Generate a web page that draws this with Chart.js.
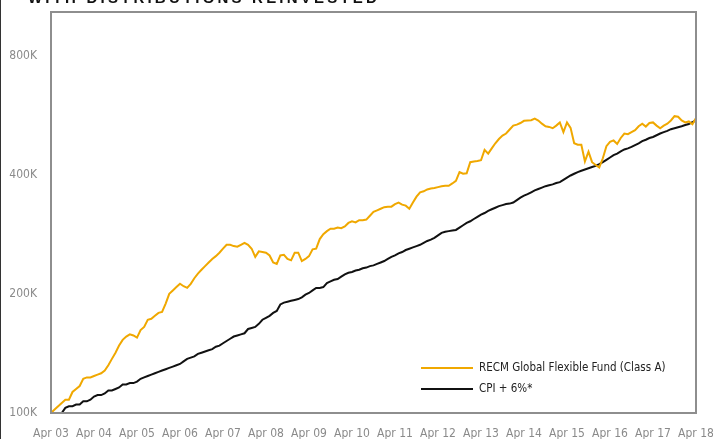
<!DOCTYPE html>
<html>
<head>
<meta charset="utf-8">
<script src="https://cdn.jsdelivr.net/npm/chart.js@4"></script>
<style>
  html, body { margin: 0; padding: 0; background: #fff; }
  #wrap { position: relative; width: 713px; height: 439px; overflow: hidden; }
  #edge { position: absolute; left: 0; top: 0; width: 1px; height: 439px; background: #333; }
  #title { position: absolute; left: 28px; top: -11px; font: bold 15px 'Liberation Sans', Arial, sans-serif;
           letter-spacing: 3.2px; color: #111; white-space: nowrap; }
</style>
</head>
<body>
<div id="wrap">
  <canvas id="myChart" width="713" height="439"></canvas>
  <div id="edge"></div>
  <div id="title">WITH DISTRIBUTIONS REINVESTED</div>
</div>
<script>
// monthly values in thousands, Apr 03 .. Apr 18
let fund = [
  100, 102, 104, 106, 108, 108, 113, 115, 117, 122, 123, 123,
  124, 125, 126, 128, 132, 137, 142, 148, 153, 156, 158, 157,
  155, 162, 165, 172, 173, 176, 179, 180, 189, 200, 204, 208,
  212, 209, 207, 212, 219, 225, 230, 235, 240, 245, 249, 254,
  260, 266, 266, 264, 263, 266, 269, 266, 260, 248, 256, 255,
  254, 250, 240, 238, 250, 251, 245, 243, 254, 254, 242, 245,
  249, 259, 260, 275, 283, 288, 292, 292, 294, 293, 296, 302,
  305, 303, 307, 307, 308, 315, 322, 325, 328, 331, 332, 332,
  337, 340, 336, 334, 328, 340, 352, 361, 363, 367, 369, 370,
  372, 374, 375, 375, 380, 386, 406, 402, 403, 430, 432, 433,
  435, 462, 452, 466, 480, 492, 502, 508, 520, 532, 535, 540,
  547, 548, 549, 554, 548, 538, 530, 528, 524, 532, 542, 512,
  542, 525, 480, 476, 476, 432, 457, 430, 423, 417, 440, 472,
  484, 488, 478, 495, 508, 506, 512, 518, 530, 538, 529, 540,
  542, 532, 524, 532, 538, 548, 562, 560, 548, 542, 545, 536,
  556
];

let cpi = [
  100, 100, 100, 100, 103, 104, 104, 105, 105, 107, 107, 108,
  110, 111, 111, 112, 114, 114, 115, 116, 118, 118, 119, 119,
  120, 122, 123, 124, 125, 126, 127, 128, 129, 130, 131, 132,
  133, 135, 137, 138, 139, 141, 142, 143, 144, 145, 147, 148,
  150, 152, 154, 156, 157, 158, 159, 163, 164, 165, 168, 172,
  174, 176, 179, 181, 188, 190, 191, 192, 193, 194, 196, 199,
  201, 204, 207, 207, 208, 213, 215, 217, 218, 221, 224, 226,
  227, 229, 230, 232, 233, 235, 236, 238, 240, 242, 245, 248,
  250, 253, 255, 258, 260, 262, 264, 266, 269, 272, 274, 277,
  281, 285, 287, 288, 289, 290, 294, 298, 302, 305, 309, 313,
  317, 320, 324, 327, 330, 333, 335, 337, 338, 340, 345, 350,
  354, 357, 361, 365, 368, 371, 374, 376, 378, 381, 383, 388,
  393, 398, 402, 406, 409, 412, 415, 418, 421, 425, 430, 436,
  442, 448, 452, 458, 463, 466, 470, 475, 480, 486, 490, 495,
  498, 503, 508, 512, 516, 521, 524, 527, 530, 534, 537, 543,
  548
];

let monthNames = ['Jan', 'Feb', 'Mar', 'Apr', 'May', 'Jun', 'Jul', 'Aug', 'Sep', 'Oct', 'Nov', 'Dec'];
let yTicks = [100000, 200000, 400000, 800000];
let yTickLabels = ['100K', '200K', '400K', '800K'];

let labels = fund.map((v, i) => {
    let m = (3 + i) % 12;
    let yr = 3 + Math.floor((3 + i) / 12);
    return monthNames[m] + ' ' + String(yr).padStart(2, '0');
});

const narrow = "'Liberation Sans Narrow', 'DejaVu Sans Condensed', 'Roboto', sans-serif";

// box round the plot
const frame = {
    id: 'frame',
    afterDatasetsDraw(chart) {
        let a = chart.chartArea;
        let ctx = chart.ctx;
        ctx.save();
        ctx.strokeStyle = '#8e8e8e';
        ctx.lineWidth = 2;
        ctx.strokeRect(a.left, a.top, a.right - a.left, a.bottom - a.top);
        ctx.restore();
    }
};

// y labels, right aligned against the axis
const yLabels = {
    id: 'yLabels',
    afterDraw(chart) {
        let s = chart.scales.y;
        let ctx = chart.ctx;
        ctx.save();
        ctx.font = '12px ' + narrow;
        ctx.fillStyle = '#8a8a8a';
        ctx.textAlign = 'right';
        ctx.textBaseline = 'middle';
        yTicks.forEach((v, i) => {
            ctx.fillText(yTickLabels[i], s.right - 14, s.getPixelForValue(v));
        });
        ctx.restore();
    }
};

// legend inside the plot, lower right
const boxLegend = {
    id: 'boxLegend',
    afterDraw(chart) {
        let ctx = chart.ctx;
        ctx.save();
        ctx.font = '11.5px ' + narrow;
        ctx.textBaseline = 'middle';
        chart.data.datasets.forEach((ds, k) => {
            let y = 368 + k * 21;
            ctx.strokeStyle = ds.borderColor;
            ctx.lineWidth = 2;
            ctx.beginPath();
            ctx.moveTo(421, y);
            ctx.lineTo(473, y);
            ctx.stroke();
            ctx.fillStyle = '#222';
            ctx.fillText(ds.label, 479, y);
        });
        ctx.restore();
    }
};

let config = {
    type: 'line',
    data: {
        labels: labels,
        datasets: [{
            label: 'RECM Global Flexible Fund (Class A)',
            data: fund.map(v => v * 1000),
            borderColor: '#f0a800',
            borderWidth: 2,
            pointRadius: 0,
            tension: 0
        }, {
            label: 'CPI + 6%*',
            data: cpi.map(v => v * 1000),
            borderColor: '#111111',
            borderWidth: 2,
            pointRadius: 0,
            tension: 0
        }]
    },
    options: {
        responsive: false,
        animation: false,
        layout: { padding: { top: 12, right: 17, left: 0, bottom: 0 } },
        plugins: {
            legend: { display: false },
            tooltip: { enabled: false }
        },
        scales: {
            x: {
                grid: { display: false, drawTicks: false },
                border: { display: false },
                afterFit: (s) => {
                    s.height = 26;
                    s.paddingLeft = 0;
                    s.paddingRight = 0;
                },
                ticks: {
                    autoSkip: false,
                    maxRotation: 0,
                    padding: 14,
                    color: '#8a8a8a',
                    font: { family: narrow, size: 12 },
                    callback: function(value, index) {
                        let lab = labels[index];
                        return lab.startsWith('Apr') ? lab : null;
                    }
                }
            },
            y: {
                type: 'logarithmic',
                min: 100000,
                max: 1030000,
                grid: { display: false, drawTicks: false },
                border: { display: false },
                afterFit: (s) => {
                    s.width = 51;
                    s.paddingTop = 0;
                    s.paddingBottom = 0;
                },
                afterBuildTicks: (s) => { s.ticks = yTicks.map(v => ({ value: v })); },
                ticks: { display: false }
            }
        }
    },
    plugins: [frame, yLabels, boxLegend]
};

let ctx = document.getElementById('myChart').getContext('2d');
var myChart = new Chart(ctx, config);
</script>
</body>
</html>
